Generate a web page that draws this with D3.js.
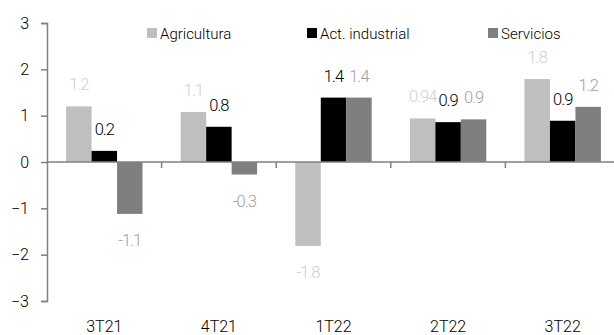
<!DOCTYPE html>
<html><head><meta charset="utf-8">
<script src="https://cdn.jsdelivr.net/npm/d3@7/dist/d3.min.js"></script>
<style>
body{margin:0;background:#fff;}
svg{display:block;font-family:Roboto, "Liberation Sans", sans-serif;font-weight:300;}
</style></head>
<body><svg id="c" width="614" height="335"></svg>
<script>
const categories = ["3T21","4T21","1T22","2T22","3T22"];
const seriesNames = ["Agricultura","Act. industrial","Servicios"];
const agricultura = [1.2, 1.08, -1.81, 0.94, 1.79];
const industrial = [0.24, 0.76, 1.39, 0.86, 0.89];
const servicios = [-1.12, -0.27, 1.39, 0.92, 1.19];
const agriLabels = ["1.2","1.1","-1.8","0.94","1.8"];
const indLabels = ["0.2","0.8","1.4","0.9","0.9"];
const servLabels = ["-1.1","-0.3","1.4","0.9","1.2"];
const yTicks = [-3,-2,-1,0,1,2,3];

const barColors = ["#bfbfbf","#000000","#7f7f7f"];
const labelColors = ["#cfcfcf","#000000","#a0a0a0"];

const svg = d3.select("#c");
const x0 = d3.scaleBand().domain(categories).range([47, 620]).paddingInner(0).paddingOuter(0);
const x1 = d3.scaleBand().domain(seriesNames).range([0, x0.bandwidth()]).paddingInner(0).paddingOuter(0.75);
const y = d3.scaleLinear().domain([-3,3]).range([301,23]);

const data = [agricultura, industrial, servicios];
const labels = [agriLabels, indLabels, servLabels];

// bars
seriesNames.forEach((s, si) => {
  svg.append("g").selectAll("rect").data(categories).join("rect")
    .attr("x", (c) => x0(c) + x1(s))
    .attr("width", x1.bandwidth())
    .attr("y", (c,i) => y(Math.max(0, data[si][i])))
    .attr("height", (c,i) => Math.abs(y(data[si][i]) - y(0)))
    .attr("fill", barColors[si]);
});

// y axis
const yAxis = d3.axisLeft(y).tickValues(yTicks).tickSize(6).tickPadding(12).tickFormat(d3.format("d"));
const gy = svg.append("g").attr("transform","translate(47,0)").call(yAxis);
gy.select(".domain").attr("stroke","#808080").attr("stroke-width",1.5);
gy.selectAll(".tick line").attr("stroke","#808080").attr("stroke-width",1.5);
gy.selectAll(".tick text").attr("fill","#000").style("font-size","16px").style("font-family","Roboto").style("font-weight","300");

// x axis at zero
const gx = svg.append("g").attr("transform",`translate(0,${y(0)})`);
gx.append("line").attr("x1",47).attr("x2",620).attr("stroke","#808080").attr("stroke-width",1.5);
gx.selectAll("line.t").data(categories.slice(1)).join("line").attr("class","t")
  .attr("x1", c => x0(c)).attr("x2", c => x0(c)).attr("y1",0).attr("y2",6)
  .attr("stroke","#808080").attr("stroke-width",1.5);

// category labels
svg.append("g").selectAll("text").data(categories).join("text")
  .attr("x", c => x0(c) + x0.bandwidth()/2)
  .attr("y", 332)
  .attr("text-anchor","middle")
  .style("font-size","16px")
  .attr("fill","#000")
  .text(c => c);

// data labels
seriesNames.forEach((s, si) => {
  svg.append("g").selectAll("text").data(categories).join("text")
    .attr("x", (c) => x0(c) + x1(s) + x1.bandwidth()/2)
    .attr("y", (c,i) => data[si][i] >= 0 ? y(data[si][i]) - 16 : y(data[si][i]) + 32)
    .attr("text-anchor","middle")
    .attr("fill", labelColors[si])
    .style("font-size","16.5px")
    .style("letter-spacing","-1px")
    .text((c,i) => labels[si][i]);
});

// legend
const legendX = [147, 307, 488];
const lg = svg.append("g");
seriesNames.forEach((s, si) => {
  lg.append("rect").attr("x", legendX[si]).attr("y", 28).attr("width",10).attr("height",10).attr("fill", barColors[si]);
  lg.append("text").attr("x", legendX[si] + 13).attr("y", 38.5).style("font-size","15px").attr("fill","#000").text(s);
});
</script>
</body></html>
